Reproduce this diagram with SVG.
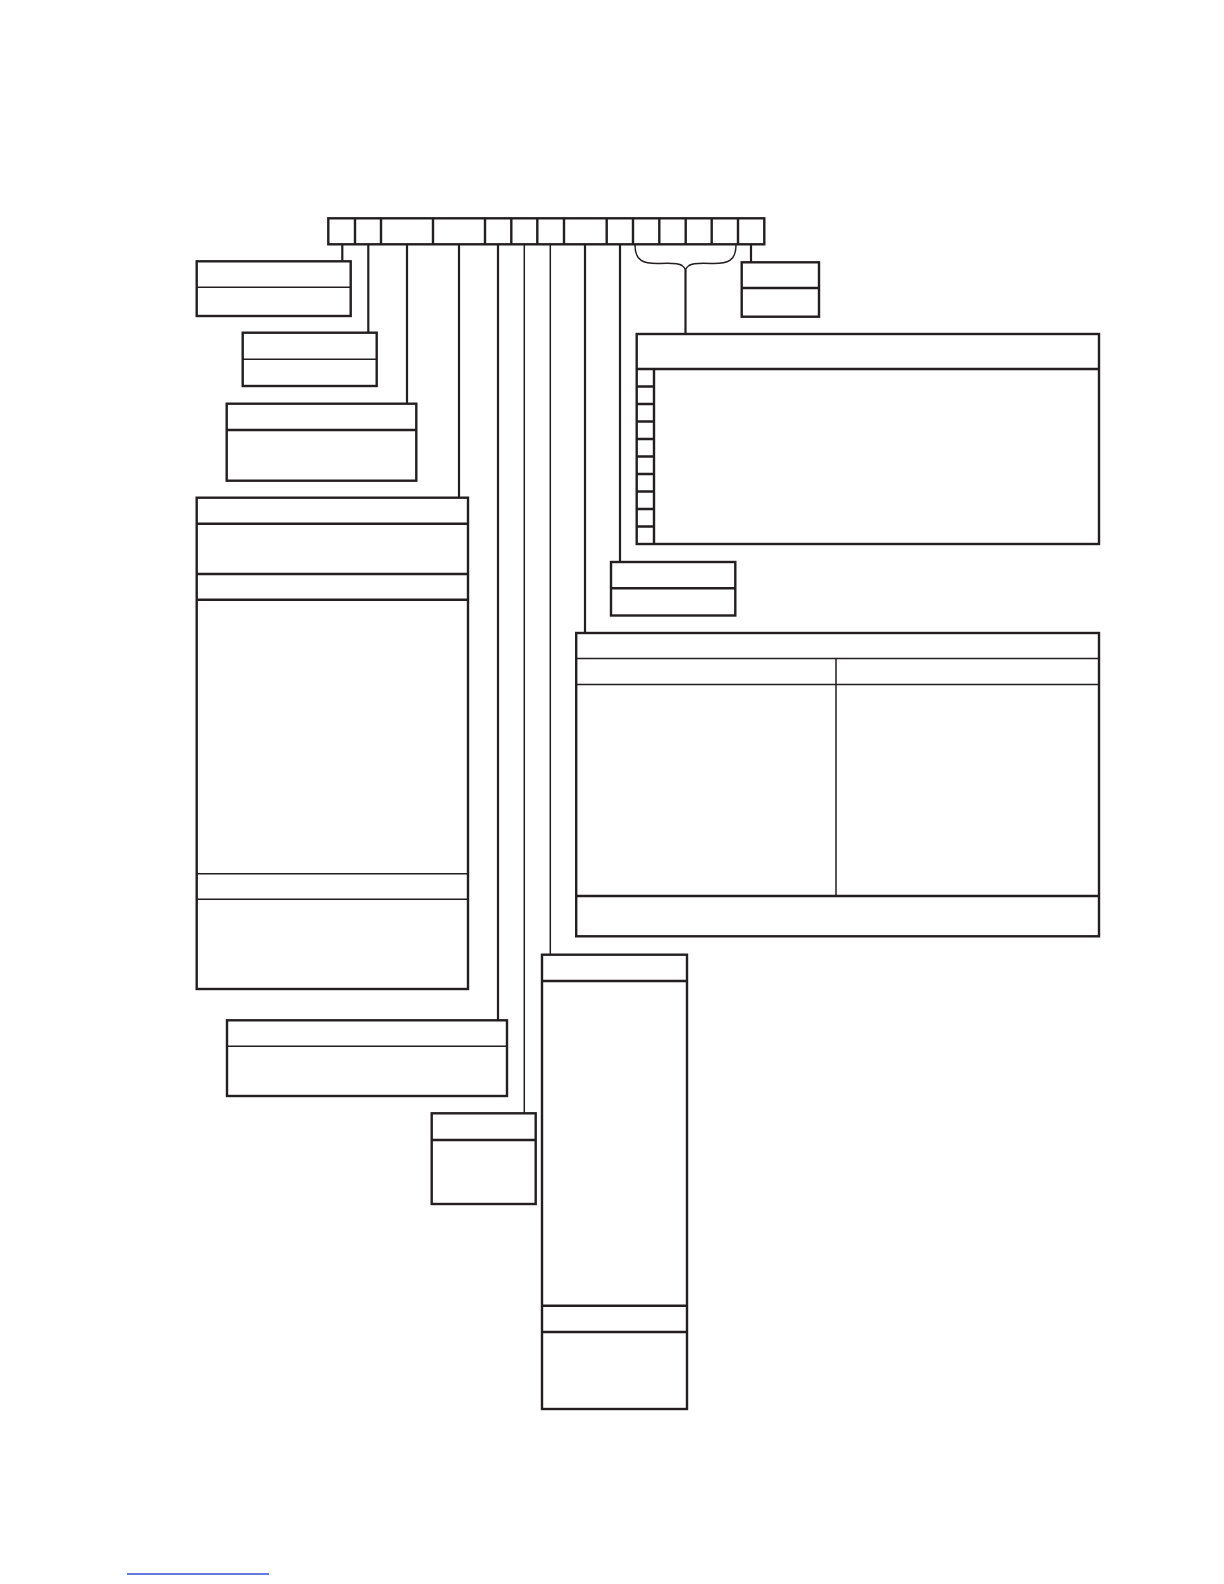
<svg xmlns="http://www.w3.org/2000/svg" width="1224" height="1584" viewBox="0 0 1224 1584">
<style>
.bx{fill:#fff;stroke:#231f20;stroke-width:2.4}
.dv{stroke:#231f20;stroke-width:2.4;fill:none}
.dt{stroke:#231f20;stroke-width:1.5;fill:none}
.cn{stroke:#231f20;stroke-width:2.2;fill:none}
.ct{stroke:#231f20;stroke-width:1.5;fill:none}
</style>
<rect width="1224" height="1584" fill="#fff"/>
<g id="field-row">
<rect class="bx" x="328.3" y="218.3" width="436" height="26"/>
<path class="dv" d="M355,218.3V244.3M381,218.3V244.3M433,218.3V244.3M485,218.3V244.3M511.3,218.3V244.3M537.3,218.3V244.3M564,218.3V244.3M606.7,218.3V244.3M633,218.3V244.3M659.3,218.3V244.3M685.7,218.3V244.3M711.7,218.3V244.3M738,218.3V244.3"/>
</g>
<g id="connectors">
<path class="cn" d="M342.3,244.3V261.3"/>
<path class="cn" d="M368.3,244.3V332.7"/>
<path class="cn" d="M407,244.3V403.7"/>
<path class="cn" d="M459,244.3V497.7"/>
<path class="cn" d="M498,244.3V1020.3"/>
<path class="ct" d="M524.3,244.3V1113.3"/>
<path class="ct" d="M550.3,244.3V954.7"/>
<path class="cn" d="M585,244.3V633"/>
<path class="cn" d="M620,244.3V562"/>
<path class="cn" d="M751,244.3V262.3"/>
<path class="ct" d="M635,245 C635,261 643,264 660,263.5 C670,263 678,263 682,265.5 C684,267 685,268 685.5,270 C686,268 687,267 689,265.5 C693,263 701,263 711,263.5 C728,264 736,261 736,245"/>
<path class="cn" d="M685.5,270V334"/>
</g>
<g id="box-a">
<rect class="bx" x="196.7" y="261.3" width="154" height="54.7"/>
<path class="dt" d="M196.7,287.3H350.7"/>
</g>
<g id="box-b">
<rect class="bx" x="242.7" y="332.7" width="134" height="53.3"/>
<path class="dt" d="M242.7,359.3H376.7"/>
</g>
<g id="box-c">
<rect class="bx" x="226.7" y="403.7" width="189.6" height="77"/>
<path class="dv" d="M226.7,430H416.3"/>
</g>
<g id="box-d">
<rect class="bx" x="196.7" y="497.7" width="271.3" height="491.3"/>
<path class="dv" d="M196.7,523.7H468M196.7,574H468M196.7,599.7H468"/>
<path class="dt" d="M196.7,873.7H468M196.7,899.3H468"/>
</g>
<g id="box-e">
<rect class="bx" x="227" y="1020.3" width="280" height="75.7"/>
<path class="dt" d="M227,1046.3H507"/>
</g>
<g id="box-f">
<rect class="bx" x="431.7" y="1113.3" width="104" height="90.7"/>
<path class="dv" d="M431.7,1140H535.7"/>
</g>
<g id="box-g">
<rect class="bx" x="542" y="954.7" width="145" height="454.3"/>
<path class="dv" d="M542,981H687M542,1305.7H687M542,1332H687"/>
</g>
<g id="box-h">
<rect class="bx" x="576.2" y="633" width="522.8" height="303.3"/>
<path class="dt" d="M576.2,658.5H1099M576.2,684.5H1099M836,658.5V896"/>
<path class="dv" d="M576.2,896H1099"/>
</g>
<g id="box-i">
<rect class="bx" x="611" y="562" width="124.3" height="53.5"/>
<path class="dv" d="M611,588.3H735.3"/>
</g>
<g id="box-j">
<rect class="bx" x="636.7" y="334" width="462.3" height="210"/>
<path class="dv" d="M636.7,369H1099M654,369V544"/>
<path class="dv" d="M636.7,386.5H654M636.7,404H654M636.7,421.5H654M636.7,439H654M636.7,456.5H654M636.7,474H654M636.7,491.5H654M636.7,509H654M636.7,526.5H654"/>
</g>
<g id="box-k">
<rect class="bx" x="741.7" y="262.3" width="77.3" height="54.4"/>
<path class="dv" d="M741.7,288H819"/>
</g>
<path d="M127,1574H269" stroke="#2f4fd0" stroke-width="1.4"/>
</svg>
